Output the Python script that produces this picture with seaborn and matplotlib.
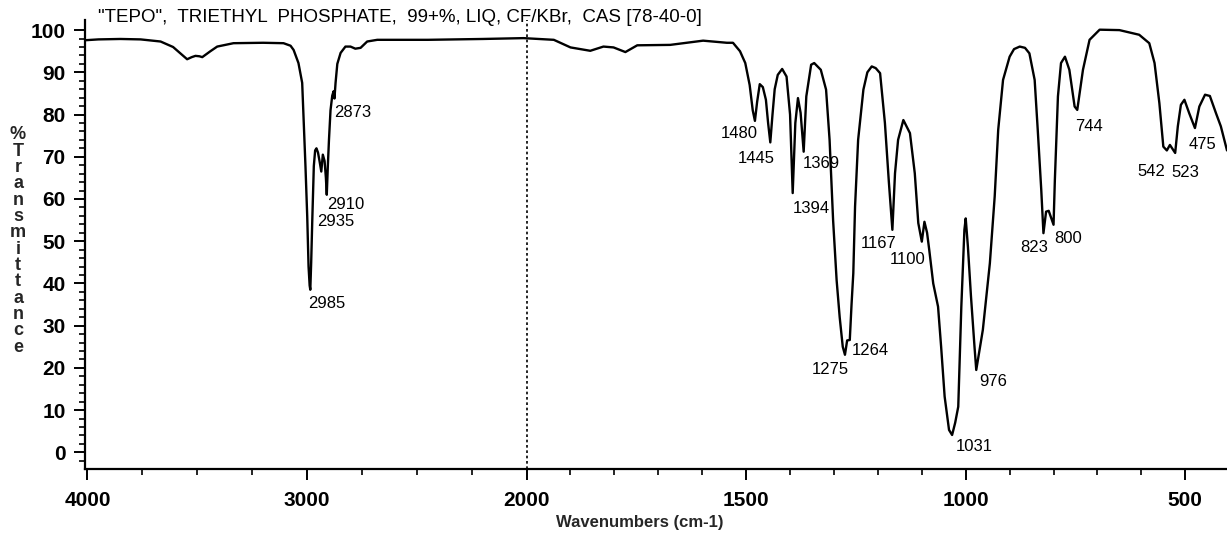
import numpy as np
import pandas as pd
import matplotlib
matplotlib.use("Agg")
import matplotlib.pyplot as plt
import seaborn as sns
from matplotlib.ticker import FixedLocator

# ---------------- data ----------------
wavenumber = [4011, 3950, 3850, 3758, 3667, 3610, 3570, 3546, 3525, 3508, 3490, 3477,
              3440, 3409, 3335, 3200, 3107, 3075, 3061, 3039, 3022, 3016, 3007, 2999,
              2993, 2988, 2985, 2981, 2976, 2969, 2963, 2957, 2950, 2943, 2935, 2928,
              2920, 2914, 2910, 2905, 2900, 2893, 2885, 2879, 2875, 2870, 2862, 2847,
              2825, 2802, 2780, 2756, 2726, 2680, 2450, 2200, 2014, 1990, 1938, 1900,
              1855, 1825, 1802, 1775, 1748, 1673, 1598, 1544, 1530, 1514, 1502, 1492,
              1485, 1480, 1475, 1469, 1462, 1455, 1450, 1445, 1440, 1435, 1428, 1418,
              1408, 1400, 1394, 1388, 1382, 1376, 1369, 1363, 1352, 1345, 1330, 1318,
              1310, 1302, 1294, 1287, 1280, 1275, 1270, 1264, 1260, 1256, 1252, 1245,
              1233, 1224, 1214, 1205, 1195, 1184, 1175, 1167, 1161, 1154, 1142, 1127,
              1116, 1108, 1100, 1094, 1088, 1083, 1074, 1063, 1056, 1048, 1038, 1031,
              1024, 1017, 1010, 1003, 1000, 995, 988, 980, 976, 971, 961, 945, 934,
              926, 915, 900, 890, 877, 865, 855, 843, 836, 828, 823, 817, 811, 800,
              797, 790, 783, 774, 764, 752, 746, 733, 718, 695, 650, 605, 582, 570,
              559, 550, 542, 535, 523, 517, 510, 502, 491, 478, 468, 455, 444, 430,
              419, 409, 405]
transmittance = [97.6, 97.8, 97.9, 97.8, 97.3, 96.0, 94.2, 93.1, 93.6, 93.9, 93.8, 93.6,
                 95.0, 96.1, 96.9, 97.0, 96.9, 96.3, 95.3, 92.2, 87.5, 79.5, 67.7, 55.8,
                 44.0, 39.5, 38.5, 45.0, 55.0, 67.8, 71.5, 72.0, 71.0, 69.0, 66.5, 70.5,
                 69.0, 65.0, 61.0, 68.0, 74.0, 81.0, 84.5, 85.5, 83.8, 87.5, 92.0, 94.6,
                 96.1, 96.1, 95.6, 95.8, 97.3, 97.7, 97.7, 97.9, 98.1, 98.0, 97.7, 95.9,
                 95.1, 96.1, 95.9, 94.8, 96.4, 96.5, 97.5, 97.0, 97.0, 95.0, 92.2, 87.0,
                 81.0, 78.5, 83.0, 87.2, 86.5, 83.5, 78.0, 73.4, 80.0, 86.0, 89.4, 90.8,
                 89.0, 80.0, 61.4, 78.0, 83.9, 80.4, 71.2, 84.3, 91.8, 92.2, 90.6, 85.9,
                 74.0, 55.0, 40.8, 32.0, 25.0, 23.1, 26.5, 26.6, 35.0, 42.4, 58.2, 74.0,
                 85.9, 90.0, 91.4, 91.0, 89.8, 78.0, 64.0, 52.7, 66.1, 74.0, 78.7, 75.6,
                 66.1, 54.3, 49.9, 54.6, 52.0, 47.9, 40.0, 34.5, 25.0, 13.2, 5.3, 4.1,
                 7.0, 10.8, 34.5, 52.7, 55.4, 48.7, 36.9, 25.0, 19.5, 22.7, 29.0, 44.8, 60.6,
                 76.4, 88.2, 93.7, 95.5, 96.1, 95.8, 94.5, 88.2, 76.4, 62.2, 51.9, 57.0, 57.2, 53.9,
                 64.5, 84.3, 92.2, 93.7, 90.6, 81.9, 81.1, 90.6, 97.7, 100.1, 100.0, 98.9, 96.9, 92.2,
                 82.7, 72.4, 71.5, 72.8, 70.9, 77.2, 82.3, 83.5, 80.3, 76.8, 81.9, 84.7, 84.4, 80.3,
                 77.2, 73.2, 71.5]

peak_labels = ["2873", "2910", "2935", "2985", "1480", "1445", "1369", "1394", "1275",
               "1264", "1167", "1100", "1031", "976", "823", "800", "744", "542", "523", "475"]
label_wn = [2794, 2825, 2870, 2908, 1516, 1478, 1329, 1352, 1309,
            1218, 1199, 1133, 980, 938, 845, 767, 720, 578, 500, 460]
label_t = [80.4, 58.6, 54.6, 35.3, 75.4, 69.7, 68.3, 57.8, 19.5,
           24.2, 49.5, 45.6, 1.3, 16.7, 48.5, 50.7, 77.2, 66.5, 66.3, 72.8]

title_text = '"TEPO",  TRIETHYL  PHOSPHATE,  99+%, LIQ, CF/KBr,  CAS [78-40-0]'
x_label = "Wavenumbers (cm-1)"
y_label = "%Transmittance"
x_major = [4000, 3000, 2000, 1500, 1000, 500]
x_minor = [3750, 3500, 3250, 2750, 2500, 2250] + [w for w in range(1900, 400, -100) if w not in (1500, 1000, 500)]
y_major = list(range(0, 101, 10))
y_minor = [v for v in range(-2, 102, 2) if v % 10 != 0]

# ---------------- style ----------------
sns.set_style("ticks")
plt.rcParams["font.family"] = ["Liberation Sans", "DejaVu Sans"]

fig = plt.figure(figsize=(12.27, 5.37), dpi=100)
ax = fig.add_axes([0.0693, 0.1266, 0.9307, 0.8362])


def fwd(w):
    w = np.asarray(w, dtype=float)
    return np.where(w >= 2000, w - 2000, 2.0 * (w - 2000))


def inv(u):
    u = np.asarray(u, dtype=float)
    return np.where(u >= 0, u + 2000, u / 2.0 + 2000)


ax.set_xscale("function", functions=(fwd, inv))

df = pd.DataFrame({"wn": wavenumber, "t": transmittance})
sns.lineplot(data=df, x="wn", y="t", ax=ax, sort=False, estimator=None,
             color="black", linewidth=1.7)

ax.axvline(2000, color="black", linestyle=(0, (1.6, 1.6)), linewidth=1.2)

ax.set_xlim(4011, 405)
ax.set_ylim(-3.96, 102.4)

ax.xaxis.set_major_locator(FixedLocator(x_major))
ax.xaxis.set_minor_locator(FixedLocator(x_minor))
ax.yaxis.set_major_locator(FixedLocator(y_major))
ax.yaxis.set_minor_locator(FixedLocator(y_minor))
ax.set_xticklabels([str(v) for v in x_major])
ax.set_yticklabels([str(v) for v in y_major])

for s in ["top", "right"]:
    ax.spines[s].set_visible(False)
for s in ["left", "bottom"]:
    ax.spines[s].set_color("black")
    ax.spines[s].set_linewidth(1.6)

ax.tick_params(axis="both", which="major", direction="out", length=8, width=1.4,
               color="black", labelsize=15, labelcolor="black")
ax.tick_params(axis="both", which="minor", direction="out", length=4.5, width=1.2, color="black")
ax.tick_params(axis="x", which="major", pad=8)
ax.tick_params(axis="y", which="major", pad=6)
for lab in ax.get_xticklabels() + ax.get_yticklabels():
    lab.set_fontweight("bold")

ax.set_xlabel("")
ax.set_ylabel("")

for txt, w, t in zip(peak_labels, label_wn, label_t):
    ax.text(w, t, txt, ha="center", va="center", fontsize=12, color="black")

ax.text(3954, 102.9, title_text, ha="left", va="center", fontsize=13.5, color="black")

fig.text(640 / 1227, 1 - 522 / 537, x_label, ha="center", va="center",
         fontsize=12, fontweight="bold")
fig.text(18 / 1227, 1 - 241 / 537, "\n".join(y_label), ha="center", va="center",
         fontsize=13, fontweight="bold", linespacing=0.95)

fig.savefig("out.png", dpi=100)
